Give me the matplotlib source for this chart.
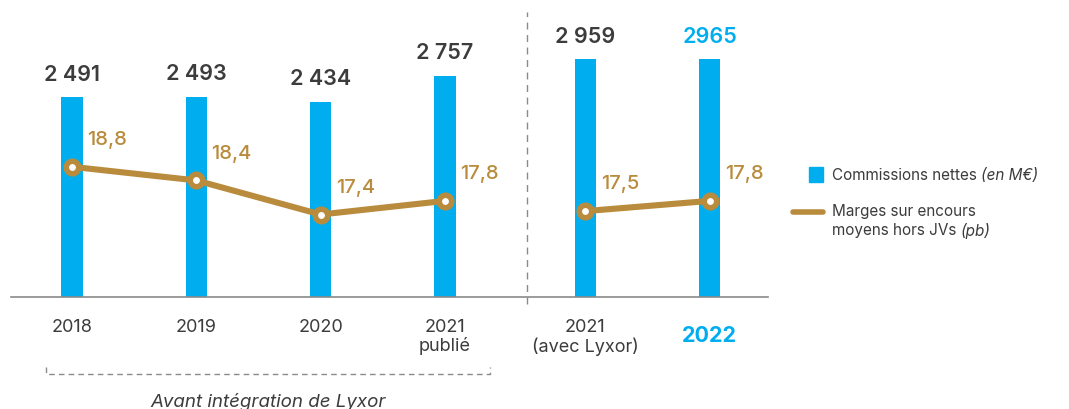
import numpy as np
import matplotlib
matplotlib.use("Agg")
import matplotlib.pyplot as plt
from matplotlib.lines import Line2D
from matplotlib.patches import Rectangle
import matplotlib.transforms as mtransforms

plt.rcParams['font.family'] = ['Inter', 'DejaVu Sans']

# Data
categories = ["2018", "2019", "2020", "2021\npublié", "2021\n(avec Lyxor)", "2022"]
commissions = [2491, 2493, 2434, 2757, 2959, 2965]          # M€
commission_labels = ["2 491", "2 493", "2 434", "2 757", "2 959", "2965"]
margins = [18.8, 18.4, 17.4, 17.8, 17.5, 17.8]                # pb
margin_labels = ["18,8", "18,4", "17,4", "17,8", "17,5", "17,8"]
n_before = 4   # years before the Lyxor integration

BLUE = "#00AEEF"
GOLD = "#B98B3C"
DARK = "#3C3C3C"
GREY = "#8A8A8A"

W, H = 1069, 410
fig = plt.figure(figsize=(W / 100, H / 100), dpi=100)
ax = fig.add_axes([11 / W, 1 - 298 / H, (768 - 11) / W, 288 / H])

n = len(categories)
# extra gap between the reported series and the "with Lyxor" series
pos = np.arange(n) + np.where(np.arange(n) >= n_before, 0.13, 0.0)

ax.bar(pos, commissions, width=0.17, color=BLUE, zorder=2)
ax.set_xlim(-0.491, 5.599)
ax.set_ylim(0, 3587)

for i, (x, v, lab) in enumerate(zip(pos, commissions, commission_labels)):
    last = i == n - 1
    ax.annotate(lab, (x, v), xytext=(0, 12.5), textcoords="offset points",
                ha="center", va="baseline", fontsize=15.5, fontweight="semibold",
                color=BLUE if last else DARK)

ax.spines[["top", "left", "right"]].set_visible(False)
ax.spines["bottom"].set_color(GREY)
ax.spines["bottom"].set_linewidth(1.2)
ax.set_yticks([])
ax.set_xticks(pos)
ax.set_xticklabels(categories, fontsize=13, color=DARK, linespacing=1.1)
ax.tick_params(axis="x", length=0, pad=15)
last_tick = ax.get_xticklabels()[-1]
last_tick.set_color(BLUE)
last_tick.set_fontweight("bold")
last_tick.set_fontsize(15.5)
last_tick.set_transform(last_tick.get_transform() +
                        mtransforms.ScaledTranslation(0, -5 / 72, fig.dpi_scale_trans))

# margins on a secondary axis, drawn as two separate segments
ax2 = ax.twinx()
ax2.set_ylim(14.98, 23.43)
ax2.axis("off")
for sl in (slice(0, n_before), slice(n_before, n)):
    ax2.plot(pos[sl], margins[sl], color=GOLD, lw=4.4, zorder=3,
             solid_capstyle="round", marker="o", markersize=9,
             markerfacecolor="white", markeredgecolor=GOLD, markeredgewidth=4)
for x, v, lab in zip(pos, margins, margin_labels):
    ax2.annotate(lab, (x, v), xytext=(11, 16.5), textcoords="offset points",
                 ha="left", va="baseline", fontsize=14.5, fontweight="medium",
                 color=GOLD)

# vertical separator
ax.axvline(3.66, ymin=-0.024, ymax=0.99, color=GREY, lw=1, ls=(0, (5, 4)),
           clip_on=False)

# bracket under the first four years
tr = mtransforms.blended_transform_factory(ax.transData, ax.transAxes)
bx0, bx1 = -0.21, 3.36
by, btop = -0.267, -0.243
ax.add_line(Line2D([bx0, bx0, bx1, bx1], [btop, by, by, btop], transform=tr,
                   color=GREY, lw=1, ls=(0, (4, 3)), clip_on=False))
ax.text(1.58, -0.36, "Avant intégration de Lyxor", transform=tr,
        ha="center", va="center", fontsize=13.5, style="italic", color=DARK)

# legend
def fxy(px, py):
    return px / W, 1 - py / H

fig.patches.append(Rectangle(fxy(809, 183), 14 / W, 15 / H,
                             transform=fig.transFigure, color=BLUE))
fig.lines.append(Line2D([793 / W, 823 / W], [1 - 213 / H] * 2,
                        transform=fig.transFigure, color=GOLD, lw=4,
                        solid_capstyle="round"))

renderer = fig.canvas.get_renderer()

def mixed(px, py, plain, italic):
    t = fig.text(*fxy(px, py), plain, fontsize=11, color=DARK, va="center")
    bb = t.get_window_extent(renderer)
    fig.text(bb.x1 / W, 1 - py / H, italic, fontsize=11, color=DARK,
             va="center", style="italic")

mixed(832, 176, "Commissions nettes ", "(en M€)")
fig.text(*fxy(832, 212), "Marges sur encours", fontsize=11, color=DARK,
         va="center")
mixed(832, 231, "moyens hors JVs ", "(pb)")

fig.savefig("out.png", dpi=100)
